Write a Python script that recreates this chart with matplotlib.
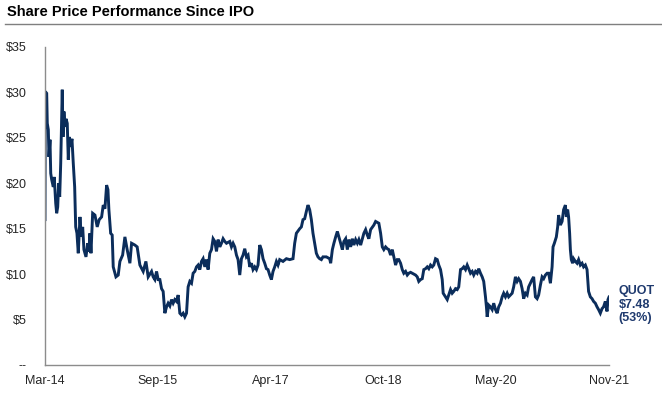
import matplotlib
matplotlib.use("Agg")
import matplotlib.pyplot as plt
import numpy as np

plt.rcParams["font.family"] = ["Liberation Sans", "DejaVu Sans"]

# share price (decimal year, $)
years = [
    2014.210, 2014.214, 2014.233, 2014.241, 2014.255, 2014.264, 2014.278, 2014.288, 2014.301, 2014.323,
    2014.336, 2014.356, 2014.369, 2014.383, 2014.396, 2014.410, 2014.424, 2014.437, 2014.445, 2014.455,
    2014.468, 2014.482, 2014.496, 2014.513, 2014.527, 2014.540, 2014.560, 2014.577, 2014.595, 2014.614,
    2014.628, 2014.645, 2014.663, 2014.686, 2014.704, 2014.723, 2014.740, 2014.768, 2014.791, 2014.808,
    2014.822, 2014.836, 2014.859, 2014.890, 2014.921, 2014.948, 2014.981, 2015.003, 2015.026, 2015.049,
    2015.067, 2015.080, 2015.104, 2015.125, 2015.139, 2015.176, 2015.207, 2015.230, 2015.267, 2015.298,
    2015.329, 2015.366, 2015.389, 2015.434, 2015.465, 2015.502, 2015.547, 2015.584, 2015.615, 2015.661,
    2015.683, 2015.706, 2015.729, 2015.751, 2015.774, 2015.797, 2015.819, 2015.842, 2015.865, 2015.887,
    2015.910, 2015.933, 2015.955, 2015.978, 2016.001, 2016.023, 2016.046, 2016.069, 2016.091, 2016.114,
    2016.137, 2016.159, 2016.182, 2016.205, 2016.227, 2016.250, 2016.273, 2016.295, 2016.318, 2016.341,
    2016.363, 2016.386, 2016.409, 2016.431, 2016.454, 2016.477, 2016.499, 2016.522, 2016.545, 2016.567,
    2016.590, 2016.613, 2016.635, 2016.658, 2016.681, 2016.726, 2016.749, 2016.771, 2016.794, 2016.817,
    2016.839, 2016.862, 2016.885, 2016.907, 2016.930, 2016.953, 2016.975, 2016.998, 2017.021, 2017.043,
    2017.066, 2017.089, 2017.111, 2017.134, 2017.157, 2017.179, 2017.202, 2017.225, 2017.247, 2017.270,
    2017.293, 2017.315, 2017.338, 2017.361, 2017.383, 2017.406, 2017.451, 2017.497, 2017.542, 2017.587,
    2017.610, 2017.633, 2017.678, 2017.701, 2017.723, 2017.746, 2017.769, 2017.791, 2017.814, 2017.837,
    2017.859, 2017.882, 2017.905, 2017.927, 2017.950, 2017.973, 2017.995, 2018.041, 2018.086, 2018.100,
    2018.123, 2018.144, 2018.168, 2018.191, 2018.212, 2018.236, 2018.259, 2018.280, 2018.304, 2018.327,
    2018.348, 2018.372, 2018.395, 2018.416, 2018.440, 2018.463, 2018.484, 2018.508, 2018.531, 2018.552,
    2018.576, 2018.599, 2018.620, 2018.644, 2018.688, 2018.712, 2018.756, 2018.780, 2018.803, 2018.824,
    2018.848, 2018.871, 2018.892, 2018.916, 2018.939, 2018.960, 2018.984, 2019.007, 2019.028, 2019.052,
    2019.075, 2019.096, 2019.120, 2019.143, 2019.164, 2019.188, 2019.232, 2019.256, 2019.279, 2019.300,
    2019.324, 2019.347, 2019.368, 2019.392, 2019.415, 2019.436, 2019.460, 2019.483, 2019.504, 2019.528,
    2019.551, 2019.572, 2019.596, 2019.619, 2019.632, 2019.664, 2019.687, 2019.708, 2019.732, 2019.755,
    2019.776, 2019.800, 2019.823, 2019.844, 2019.868, 2019.891, 2019.912, 2019.936, 2019.959, 2019.980,
    2020.004, 2020.027, 2020.048, 2020.072, 2020.095, 2020.116, 2020.140, 2020.163, 2020.184, 2020.208,
    2020.221, 2020.231, 2020.252, 2020.276, 2020.299, 2020.320, 2020.344, 2020.367, 2020.388, 2020.412,
    2020.435, 2020.456, 2020.480, 2020.503, 2020.524, 2020.548, 2020.571, 2020.592, 2020.616, 2020.639,
    2020.660, 2020.684, 2020.707, 2020.728, 2020.752, 2020.775, 2020.796, 2020.820, 2020.843, 2020.864,
    2020.888, 2020.911, 2020.932, 2020.956, 2020.979, 2021.000, 2021.024, 2021.047, 2021.068, 2021.092,
    2021.115, 2021.128, 2021.146, 2021.173, 2021.191, 2021.204, 2021.228, 2021.251, 2021.272, 2021.296,
    2021.309, 2021.327, 2021.340, 2021.354, 2021.364, 2021.377, 2021.395, 2021.408, 2021.432, 2021.455,
    2021.476, 2021.500, 2021.523, 2021.544, 2021.568, 2021.591, 2021.612, 2021.636, 2021.659, 2021.680,
    2021.704, 2021.727, 2021.748, 2021.772, 2021.795, 2021.816, 2021.840, 2021.863, 2021.876, 2021.890,
]
prices = [
    16.0, 30.1, 29.9, 26.6, 25.9, 22.9, 24.8, 21.1, 20.4, 19.6,
    20.7, 17.8, 16.7, 17.4, 20.0, 18.5, 22.2, 27.0, 30.3, 25.1,
    27.9, 26.2, 27.1, 26.6, 22.6, 25.1, 24.0, 24.9, 22.2, 19.6,
    15.2, 14.5, 12.3, 16.3, 14.1, 15.2, 12.7, 11.9, 13.4, 12.5,
    14.5, 12.3, 16.7, 16.5, 15.2, 16.0, 16.3, 17.6, 17.2, 19.8,
    19.3, 17.1, 14.5, 14.3, 10.8, 9.7, 9.9, 11.4, 12.1, 14.1,
    12.7, 11.2, 13.4, 13.2, 13.0, 11.0, 10.3, 11.4, 9.7, 10.3,
    9.7, 9.4, 10.3, 9.4, 9.4, 8.4, 8.1, 5.7, 6.4, 6.8,
    6.5, 7.2, 6.8, 7.2, 7.0, 7.7, 5.7, 5.5, 5.7, 5.3,
    5.7, 8.6, 9.2, 9.0, 10.1, 10.3, 10.8, 11.0, 10.5, 11.4,
    11.7, 10.8, 11.6, 10.5, 12.3, 12.7, 13.9, 13.6, 12.5, 13.8,
    13.0, 13.4, 13.9, 13.6, 13.4, 13.6, 13.0, 13.4, 13.0, 12.1,
    11.6, 9.9, 11.7, 12.1, 12.8, 11.9, 12.1, 10.8, 11.2, 10.5,
    10.8, 10.5, 11.0, 13.2, 12.7, 11.7, 11.2, 10.6, 10.5, 9.9,
    9.4, 10.3, 10.8, 11.4, 11.0, 11.6, 11.4, 11.7, 11.6, 11.7,
    13.4, 14.5, 15.0, 15.2, 16.0, 16.1, 16.9, 17.6, 17.1, 16.0,
    14.5, 13.4, 12.3, 11.9, 11.7, 11.6, 11.9, 11.9, 11.7, 11.2,
    12.7, 13.4, 14.1, 14.7, 14.1, 13.4, 12.7, 13.6, 13.9, 12.7,
    13.8, 13.0, 13.9, 13.2, 13.8, 13.4, 13.8, 13.2, 13.9, 14.5,
    14.9, 14.3, 13.9, 14.9, 15.4, 15.8, 15.6, 14.5, 13.0, 12.7,
    13.0, 12.8, 12.7, 12.1, 12.7, 11.9, 11.0, 11.6, 11.6, 11.2,
    10.5, 10.1, 10.3, 9.9, 10.1, 10.2, 10.0, 9.9, 9.7, 9.2,
    9.4, 9.5, 10.5, 10.6, 10.8, 10.6, 11.0, 10.8, 11.0, 11.7,
    11.6, 11.0, 10.5, 9.4, 7.9, 7.5, 7.2, 7.7, 8.3, 7.9,
    8.1, 8.4, 8.3, 8.6, 10.5, 10.6, 10.8, 10.5, 11.0, 10.6,
    10.1, 10.3, 9.9, 10.3, 10.1, 10.6, 10.1, 9.7, 9.2, 7.5,
    6.4, 5.3, 6.6, 6.4, 6.1, 6.8, 6.1, 5.7, 6.4, 6.8,
    7.5, 7.9, 7.5, 7.9, 7.5, 7.7, 7.9, 8.6, 9.7, 9.2,
    9.5, 9.2, 8.4, 7.3, 7.9, 7.7, 8.6, 9.0, 9.4, 9.7,
    7.5, 7.3, 7.7, 8.8, 9.7, 9.5, 9.9, 10.1, 10.1, 9.0,
    10.8, 13.0, 13.4, 14.1, 15.2, 16.5, 15.4, 15.8, 17.1, 17.6,
    16.3, 17.1, 16.3, 14.5, 12.7, 11.6, 11.2, 11.7, 11.4, 11.2,
    11.6, 11.0, 11.2, 10.8, 11.0, 10.5, 8.1, 7.5, 7.3, 7.0,
    6.8, 6.4, 6.1, 5.7, 6.2, 6.4, 7.0, 5.9, 7.2, 7.48,
]

tick_labels = ["Mar-14", "Sep-15", "Apr-17", "Oct-18", "May-20", "Nov-21"]
y_ticks = [0, 5, 10, 15, 20, 25, 30, 35]
y_labels = ["--", "$5", "$10", "$15", "$20", "$25", "$30", "$35"]

ticker = "QUOT"
last_label = "$7.48"
change_label = "(53%)"

navy = "#0b2d5b"
text_navy = "#1f3a6e"
axis_grey = "#8c8c8c"

fig = plt.figure(figsize=(6.62, 3.98), dpi=100)
ax = fig.add_axes([45 / 662, 33 / 398, 564 / 662, 318 / 398])

ax.plot(years, prices, color=navy, lw=2.1, solid_joinstyle="miter")

ax.set_xlim(years[0], years[-1])
ax.set_ylim(0, 35)
ax.set_xticks(np.linspace(years[0], years[-1], len(tick_labels)))
ax.set_xticklabels(tick_labels)
ax.set_yticks(y_ticks)
ax.set_yticklabels(y_labels)
ax.tick_params(axis="both", length=0, labelsize=9, labelcolor="#262626")
ax.tick_params(axis="x", pad=7)
ax.tick_params(axis="y", pad=13)

for side in ["top", "right"]:
    ax.spines[side].set_visible(False)
for side in ["left", "bottom"]:
    ax.spines[side].set_color(axis_grey)
    ax.spines[side].set_linewidth(1.0)

ax.annotate(f"{ticker}\n{last_label}\n{change_label}", xy=(years[-1], prices[-1]),
            xytext=(7, -5.5), textcoords="offset points", ha="left", va="center",
            fontsize=9, fontweight="bold", color=text_navy, linespacing=1.2,
            annotation_clip=False)

fig.text(7 / 662, 1 - 12 / 398, "Share Price Performance Since IPO", fontsize=10.5,
         fontweight="bold", color="black", ha="left", va="center")
fig.add_artist(plt.Line2D([5 / 662, 1.0], [1 - 24 / 398, 1 - 24 / 398],
                          color="#7f7f7f", lw=1.0, transform=fig.transFigure))

fig.savefig("out.png", dpi=100)
